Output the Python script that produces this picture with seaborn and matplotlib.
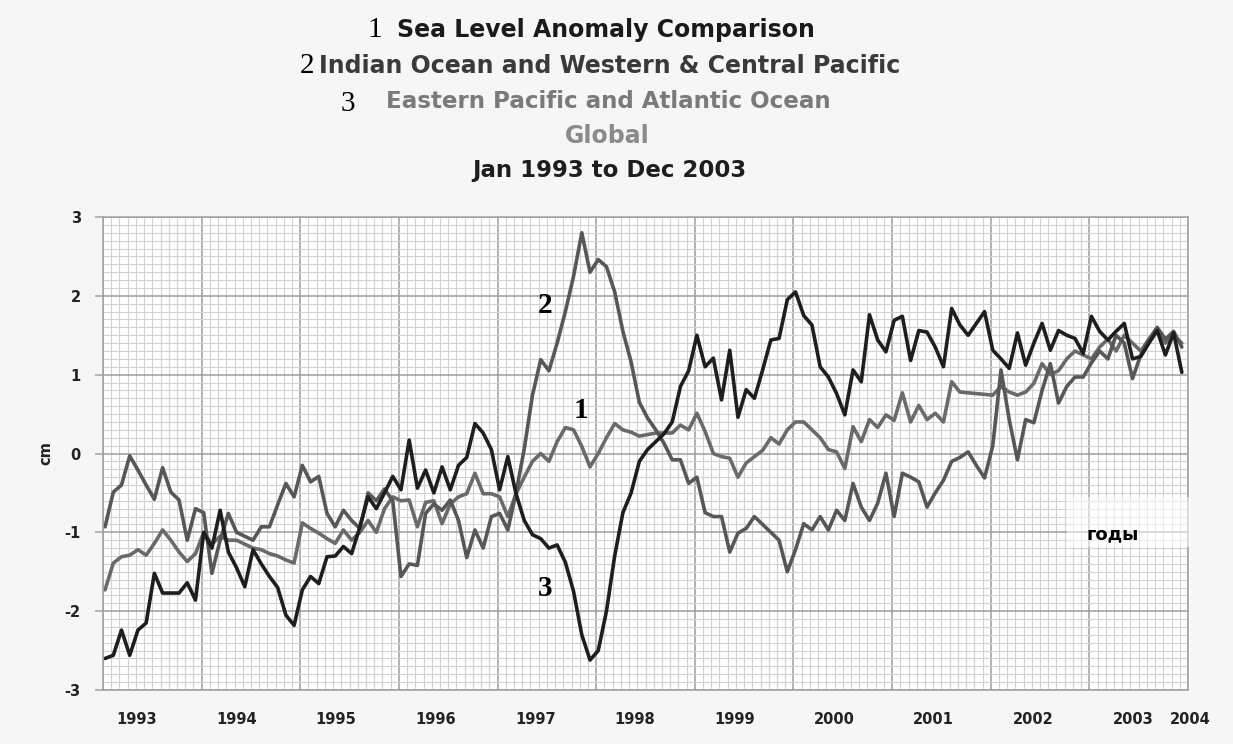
import numpy as np
import pandas as pd
import matplotlib
matplotlib.use("Agg")
import matplotlib.pyplot as plt
import seaborn as sns
from matplotlib.ticker import MultipleLocator
from matplotlib.transforms import ScaledTranslation
from matplotlib.patches import Rectangle

# ---------------- data (monthly, Jan 1993 .. Dec 2003, cm) ----------------
global_sla = [
    -1.73, -1.39, -1.31, -1.29, -1.22, -1.29, -1.14, -0.97, -1.10, -1.25, -1.37, -1.27,
    -1.00, -1.15, -1.05, -1.10, -1.10, -1.15, -1.20, -1.22, -1.27, -1.30, -1.35, -1.39,
    -0.88, -0.95, -1.01, -1.08, -1.14, -0.97, -1.10, -1.00, -0.85, -1.00, -0.70, -0.55,
    -0.60, -0.59, -0.93, -0.62, -0.60, -0.89, -0.64, -0.55, -0.51, -0.25, -0.51, -0.51,
    -0.55, -0.80, -0.51, -0.30, -0.10, 0.00, -0.10, 0.15, 0.33, 0.30, 0.09, -0.17,
    0.00, 0.20, 0.38, 0.30, 0.27, 0.22, 0.24, 0.26, 0.26, 0.26, 0.36, 0.30,
    0.51, 0.28, 0.00, -0.04, -0.06, -0.30, -0.12, -0.04, 0.04, 0.20, 0.12, 0.30,
    0.40, 0.40, 0.30, 0.20, 0.05, 0.02, -0.19, 0.34, 0.15, 0.43, 0.33, 0.49,
    0.42, 0.77, 0.40, 0.61, 0.43, 0.51, 0.40, 0.91, 0.78, 0.77, 0.76, 0.75,
    0.74, 0.85, 0.78, 0.74, 0.78, 0.89, 1.14, 1.00, 1.05, 1.20, 1.30, 1.25,
    1.20, 1.35, 1.45, 1.30, 1.50, 1.40, 1.30, 1.45, 1.55, 1.40, 1.50, 1.40,
]
indian_wc_pacific = [
    -0.93, -0.49, -0.40, -0.03, -0.21, -0.40, -0.58, -0.18, -0.49, -0.59, -1.10, -0.70,
    -0.75, -1.52, -1.10, -0.76, -1.00, -1.05, -1.10, -0.93, -0.93, -0.65, -0.38, -0.55,
    -0.15, -0.36, -0.29, -0.76, -0.93, -0.72, -0.85, -0.95, -0.50, -0.60, -0.45, -0.60,
    -1.56, -1.40, -1.42, -0.76, -0.64, -0.72, -0.59, -0.85, -1.32, -0.97, -1.20, -0.80,
    -0.76, -0.97, -0.50, 0.06, 0.74, 1.19, 1.05, 1.40, 1.80, 2.25, 2.80, 2.30,
    2.46, 2.37, 2.05, 1.55, 1.16, 0.65, 0.45, 0.30, 0.13, -0.08, -0.08, -0.38,
    -0.30, -0.75, -0.80, -0.80, -1.25, -1.01, -0.95, -0.80, -0.90, -1.00, -1.10, -1.50,
    -1.22, -0.89, -0.97, -0.80, -0.97, -0.72, -0.85, -0.38, -0.68, -0.85, -0.63, -0.25,
    -0.80, -0.25, -0.30, -0.36, -0.68, -0.50, -0.34, -0.10, -0.05, 0.02, -0.15, -0.31,
    0.10, 1.06, 0.43, -0.08, 0.43, 0.39, 0.80, 1.14, 0.64, 0.85, 0.97, 0.97,
    1.15, 1.30, 1.20, 1.50, 1.40, 0.95, 1.25, 1.45, 1.60, 1.45, 1.55, 1.35,
]
east_pacific_atlantic = [
    -2.60, -2.56, -2.24, -2.56, -2.24, -2.15, -1.52, -1.77, -1.77, -1.77, -1.64, -1.86,
    -1.00, -1.20, -0.72, -1.25, -1.45, -1.69, -1.22, -1.40, -1.56, -1.70, -2.05, -2.18,
    -1.73, -1.56, -1.65, -1.31, -1.30, -1.18, -1.27, -0.93, -0.55, -0.70, -0.50, -0.29,
    -0.46, 0.17, -0.44, -0.21, -0.50, -0.17, -0.46, -0.15, -0.05, 0.38, 0.26, 0.05,
    -0.46, -0.04, -0.51, -0.85, -1.03, -1.08, -1.20, -1.16, -1.38, -1.75, -2.30, -2.62,
    -2.50, -2.00, -1.30, -0.75, -0.50, -0.10, 0.05, 0.15, 0.25, 0.40, 0.85, 1.05,
    1.50, 1.10, 1.21, 0.68, 1.31, 0.46, 0.81, 0.70, 1.06, 1.44, 1.46, 1.95,
    2.05, 1.75, 1.63, 1.10, 0.97, 0.76, 0.49, 1.06, 0.91, 1.76, 1.44, 1.29,
    1.69, 1.74, 1.18, 1.56, 1.54, 1.35, 1.10, 1.84, 1.63, 1.50, 1.65, 1.80,
    1.31, 1.20, 1.08, 1.53, 1.12, 1.40, 1.65, 1.31, 1.56, 1.50, 1.46, 1.27,
    1.74, 1.55, 1.44, 1.55, 1.65, 1.20, 1.23, 1.40, 1.56, 1.25, 1.53, 1.03,
]
year_labels = ["1993", "1994", "1995", "1996", "1997", "1998",
               "1999", "2000", "2001", "2002", "2003", "2004"]
y_ticks = [-3, -2, -1, 0, 1, 2, 3]
series_names = ["1", "2", "3"]
series_colors = {"1": "#6a6a6a", "2": "#575757", "3": "#1e1e1e"}

months = pd.date_range("1993-01-01", periods=132, freq="MS")
t = months.year + (months.month - 0.75) / 12.0

df = pd.concat([
    pd.DataFrame({"t": t, "v": global_sla, "series": "1"}),
    pd.DataFrame({"t": t, "v": indian_wc_pacific, "series": "2"}),
    pd.DataFrame({"t": t, "v": east_pacific_atlantic, "series": "3"}),
], ignore_index=True)

# ---------------- figure ----------------
sns.set_theme(style="white")
plt.rcParams["font.family"] = ["DejaVu Sans"]
W, H = 1233, 744
fig = plt.figure(figsize=(W / 100, H / 100), dpi=100, facecolor="#f6f6f6")
ax = fig.add_axes([103 / W, 1 - 690 / H, (1188 - 103) / W, (690 - 217) / H])
ax.set_facecolor("white")

sns.lineplot(data=df, x="t", y="v", hue="series", hue_order=series_names,
             palette=series_colors, linewidth=2.6, legend=False, ax=ax,
             estimator=None, sort=False)

ax.set_xlim(1993, 2004)
ax.set_ylim(-3, 3)
years = [int(s) for s in year_labels]
ax.set_xticks(years)
ax.set_xticklabels(year_labels)
ax.set_yticks(y_ticks)
ax.set_yticklabels([str(v) for v in y_ticks])
ax.xaxis.set_minor_locator(MultipleLocator(1 / 12))
ax.yaxis.set_minor_locator(MultipleLocator(0.1))
ax.grid(which="minor", color="#d2d2d2", linewidth=0.8)
ax.grid(which="major", color="#9c9c9c", linewidth=1.1)
ax.set_axisbelow(True)
for s in ax.spines.values():
    s.set_color("#a0a0a0")
    s.set_linewidth(1.1)

ax.tick_params(axis="y", which="major", left=True, length=6, width=1.1,
               color="#a0a0a0", pad=10, labelsize=10.5)
ax.tick_params(axis="x", which="major", bottom=False, length=0, pad=16,
               labelsize=10.5)
ax.tick_params(which="minor", length=0)
for lab in ax.get_xticklabels() + ax.get_yticklabels():
    lab.set_fontweight("bold")
    lab.set_color("#222222")

# tick labels in the reference sit right of the year grid lines
xlabs = ax.get_xticklabels()
for k, lab in enumerate(xlabs):
    dx = (34 + 0.95 * k) if k < len(xlabs) - 1 else 2
    lab.set_transform(lab.get_transform() + ScaledTranslation(dx / 100, 0, fig.dpi_scale_trans))

ax.set_xlabel("")
ax.set_ylabel("cm", fontsize=10.5, fontweight="bold", color="#222222", labelpad=8)

# series number annotations
for xs, ys, s in [(1997.48, 1.88, "2"), (1997.85, 0.55, "1"), (1997.48, -1.71, "3")]:
    ax.text(xs, ys, s, fontsize=21, fontweight="bold", family="Liberation Serif",
            ha="center", va="center", color="black", zorder=6)

# "годы" label on a faint white patch
ax.add_patch(Rectangle(((1067 - 103) / 1085, (690 - 547) / 473),
                       (1191 - 1067) / 1085, 50 / 473, transform=ax.transAxes,
                       facecolor="white", edgecolor="none", alpha=0.55,
                       clip_on=False, zorder=4))
ax.text(2003.24, -1.03, "годы", fontsize=13, fontweight="bold",
        family="DejaVu Sans", ha="center", va="center", color="black", zorder=5)

# ---------------- titles ----------------
def ftext(x, y, s, **kw):
    fig.text(x / W, 1 - y / H, s, ha="center", va="center", **kw)

title_font = "DejaVu Sans"
ftext(606, 30, "Sea Level Anomaly Comparison", fontsize=17, fontweight="bold",
      family=title_font, color="#1a1a1a")
ftext(610, 66, "Indian Ocean and Western & Central Pacific", fontsize=17,
      fontweight="bold", family=title_font, color="#3a3a3a")
ftext(608, 101, "Eastern Pacific and Atlantic Ocean", fontsize=16.6,
      fontweight="bold", family=title_font, color="#7a7a7a")
ftext(607, 136, "Global", fontsize=17, fontweight="bold", family=title_font,
      color="#8a8a8a")
ftext(609, 171, "Jan 1993 to Dec 2003", fontsize=16.5, fontweight="bold",
      family=title_font, color="#1e1e1e")

ftext(375, 30, "1", fontsize=21, family="Liberation Serif", color="black")
ftext(307, 66, "2", fontsize=21, family="Liberation Serif", color="black")
ftext(348, 104, "3", fontsize=21, family="Liberation Serif", color="black")

fig.savefig("out.png", dpi=100, facecolor=fig.get_facecolor())
